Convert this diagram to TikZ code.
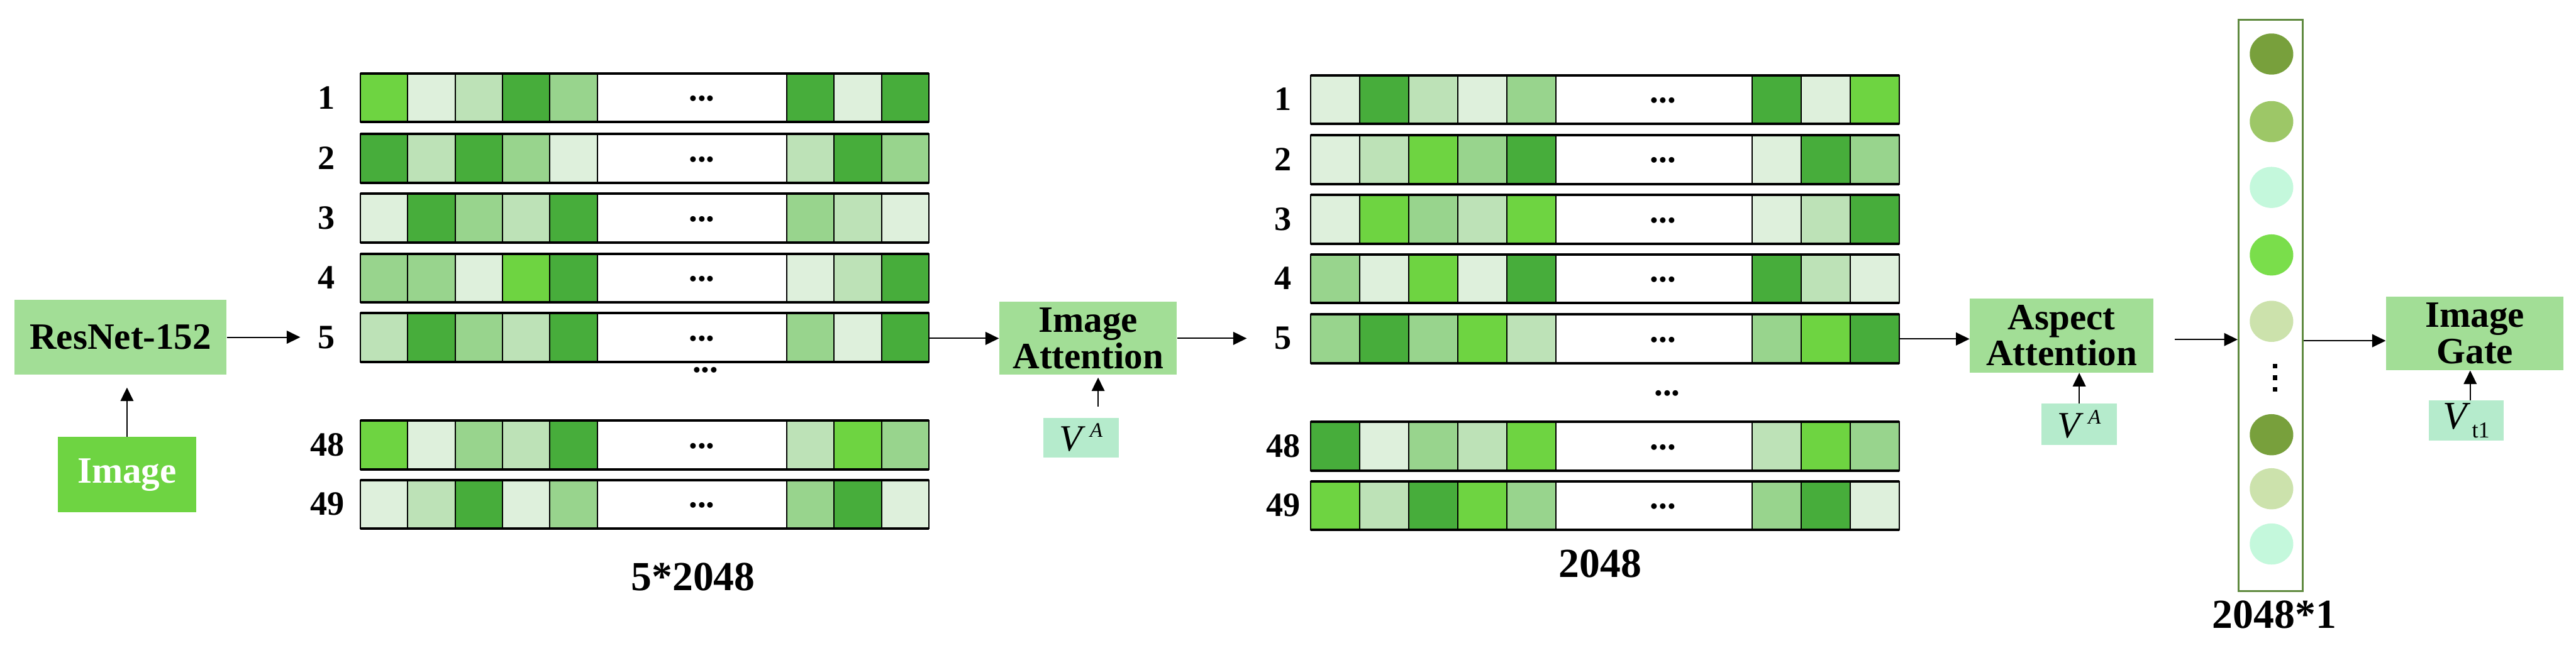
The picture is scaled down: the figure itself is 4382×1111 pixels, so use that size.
\documentclass[tikz,border=0pt]{standalone}
\usepackage{fontspec}
\setmainfont{Liberation Serif}
\usetikzlibrary{arrows.meta,shapes.geometric}
\definecolor{boxg}{HTML}{A2DE96}
\definecolor{imgg}{HTML}{6ED442}
\definecolor{mint}{HTML}{B5EBCC}
\definecolor{ga}{HTML}{DEF0DC}
\definecolor{gb}{HTML}{BDE2B7}
\definecolor{gc}{HTML}{98D48D}
\definecolor{gd}{HTML}{6ED441}
\definecolor{ge}{HTML}{47AD3B}
\definecolor{ca}{HTML}{78A03C}
\definecolor{cb}{HTML}{9DC767}
\definecolor{cc}{HTML}{C4F8DC}
\definecolor{cd}{HTML}{7ADE4B}
\definecolor{ce}{HTML}{CCE2AC}
\definecolor{colg}{HTML}{5F8A3F}
\newcommand\mybar[4]{%
  \foreach \cl [count=\i from 0] in {#4} {
    \pgfmathsetmacro\kk{\i+4*(\i>4)}
    \filldraw[fill=g\cl, draw=black, line width=0.6pt] ({#1+#2*\kk},#3) rectangle ++(#2,83);
  }
  \draw[line width=0.6pt] ({#1+5*#2},#3) rectangle ({#1+9*#2},{#3+83});
  \draw[line width=1.2pt] (#1,#3) -- ({#1+12*#2},#3) (#1,{#3+83}) -- ({#1+12*#2},{#3+83});
}
\begin{document}
\begin{tikzpicture}[x=0.1mm,y=-0.1mm,
  box/.style={fill=boxg, draw=none, inner sep=0, align=center, font=\fontsize{18}{17.5}\selectfont\bfseries},
  smallbox/.style={fill=mint, draw=none, inner sep=0},
  arr/.style={-{Triangle[length=2.3mm,width=2.2mm]}, line width=0.6pt},
  lab/.style={inner sep=0, font=\fontsize{16.5}{16}\selectfont\bfseries},
  dimlab/.style={inner sep=0, font=\fontsize{20}{20}\selectfont\bfseries},
  dotlab/.style={inner sep=0, anchor=base, font=\fontsize{16.7}{16}\selectfont\bfseries}]
\useasboundingbox (0,0) rectangle (4382,1111);

% left boxes
\node[box, minimum width=36mm, minimum height=12.8mm] (resnet) at (205,574) {ResNet-152};
\node[box, fill=imgg, text=white, minimum width=23.6mm, minimum height=12.8mm] (image) at (216,808) {Image};

% left matrix
\mybar{613}{80.6}{125}{d,a,b,e,c,e,a,e}
\mybar{613}{80.6}{228}{e,b,e,c,a,b,e,c}
\mybar{613}{80.6}{330}{a,e,c,b,e,c,b,a}
\mybar{613}{80.6}{432}{c,c,a,d,e,a,b,e}
\mybar{613}{80.6}{533}{b,e,c,b,e,c,a,e}
\mybar{613}{80.6}{716}{d,a,c,b,e,b,d,c}
\mybar{613}{80.6}{817}{a,b,e,a,c,c,e,a}
\node[lab] (l1) at (555,166) {1};
\node[lab] (l2) at (555,269) {2};
\node[lab] (l3) at (555,371) {3};
\node[lab] (l4) at (555,473) {4};
\node[lab] (l5) at (555,574) {5};
\node[lab] (l48) at (557,757) {48};
\node[lab] (l49) at (557,858) {49};
\foreach \yy [count=\n] in {166,269,371,473,574,757,858}
  \node[dotlab] (ld\n) at (1194,\yy+6) {...};
\node[dotlab] (ldm) at (1200,634) {...};
\node[dimlab] (ldim) at (1179,982) {5*2048};

% image attention
\node[box, minimum width=30.2mm, minimum height=12.4mm] (imgatt) at (1851,576) {Image\\Attention};
\node[smallbox, minimum width=12.8mm, minimum height=6.7mm] (va1) at (1839,745)
  {\fontsize{18}{18}\selectfont\textit{V}\hspace{0.7mm}\raisebox{2.4mm}{\fontsize{10}{10}\selectfont\textit{A}}};

% right matrix
\mybar{2230}{83.4}{128}{a,e,b,a,c,e,a,d}
\mybar{2230}{83.4}{230}{a,b,d,c,e,a,e,c}
\mybar{2230}{83.4}{332}{a,d,c,b,d,a,b,e}
\mybar{2230}{83.4}{433}{c,a,d,a,e,e,b,a}
\mybar{2230}{83.4}{535}{c,e,c,d,b,c,d,e}
\mybar{2230}{83.4}{718}{e,a,c,b,d,b,d,c}
\mybar{2230}{83.4}{819}{d,b,e,d,c,c,e,a}
\node[lab] (r1) at (2183,169) {1};
\node[lab] (r2) at (2183,271) {2};
\node[lab] (r3) at (2183,373) {3};
\node[lab] (r4) at (2183,474) {4};
\node[lab] (r5) at (2183,576) {5};
\node[lab] (r48) at (2183,759) {48};
\node[lab] (r49) at (2183,860) {49};
\foreach \yy [count=\n] in {169,271,373,474,576,759,860}
  \node[dotlab] (rd\n) at (2829,\yy+6) {...};
\node[dotlab] (rdm) at (2836,673) {...};
\node[dimlab] (rdim) at (2722,960) {2048};

% aspect attention
\node[box, minimum width=31.2mm, minimum height=12.6mm] (aspatt) at (3507,571) {Aspect\\Attention};
\node[smallbox, minimum width=12.9mm, minimum height=7mm] (va2) at (3537,722)
  {\fontsize{18}{18}\selectfont\textit{V}\hspace{0.7mm}\raisebox{2.4mm}{\fontsize{10}{10}\selectfont\textit{A}}};

% column vector
\node[draw=colg, line width=0.9pt, inner sep=0, minimum width=10.9mm, minimum height=97.2mm] (column) at (3862.5,520) {};
\fill[ca] (3864,92) ellipse [x radius=3.7mm, y radius=3.5mm];
\fill[cb] (3864,207) ellipse [x radius=3.7mm, y radius=3.5mm];
\fill[cc] (3864,319) ellipse [x radius=3.7mm, y radius=3.5mm];
\fill[cd] (3864,434) ellipse [x radius=3.7mm, y radius=3.5mm];
\fill[ce] (3864,547) ellipse [x radius=3.7mm, y radius=3.5mm];
\fill[ca] (3864,740) ellipse [x radius=3.7mm, y radius=3.5mm];
\fill[ce] (3864,832) ellipse [x radius=3.7mm, y radius=3.5mm];
\fill[cc] (3864,926) ellipse [x radius=3.7mm, y radius=3.5mm];
\foreach \yy in {623,643,663}
  \fill[black] (3866,\yy-4) rectangle ++(8,8);
\node[dimlab] (cdim) at (3869,1046) {2048*1};

% image gate
\node[box, minimum width=30.2mm, minimum height=12.5mm] (gate) at (4210,567.5) {Image\\Gate};
\node[smallbox, minimum width=12.7mm, minimum height=6.8mm] (vt1) at (4195.5,716)
  {\fontsize{19}{19}\selectfont\textit{V}\hspace{0.2mm}\raisebox{-1.5mm}{\fontsize{11}{11}\selectfont t1}};

% connectors
\draw[arr, shorten >=2.1mm] (image.north) -- (image.north |- resnet.south);
\draw[arr, shorten >=2.9mm] (resnet.east) -- (l5.west);
\coordinate (le5) at (1580,576);
\draw[arr] (le5) -- (imgatt.west |- le5);
\draw[arr, shorten >=4.7mm] (imgatt.east) -- (r5.west);
\coordinate (xa) at (1868,0);
\draw[arr, shorten <=1.9mm, shorten >=0.4mm] (va1.north -| xa) -- (imgatt.south -| xa);
\coordinate (re5) at (3231,577);
\draw[arr] (re5) -- (aspatt.west |- re5);
\coordinate (ya) at (0,578);
\draw[arr, shorten <=3.6mm] (aspatt.east |- ya) -- (column.west |- ya);
\draw[arr] (va2.north) -- (aspatt.south -| va2.north);
\coordinate (yb) at (0,580);
\draw[arr] (column.east |- yb) -- (gate.west |- yb);
\coordinate (xb) at (4202,0);
\draw[arr] (vt1.north -| xb) -- (gate.south -| xb);
\end{tikzpicture}
\end{document}
